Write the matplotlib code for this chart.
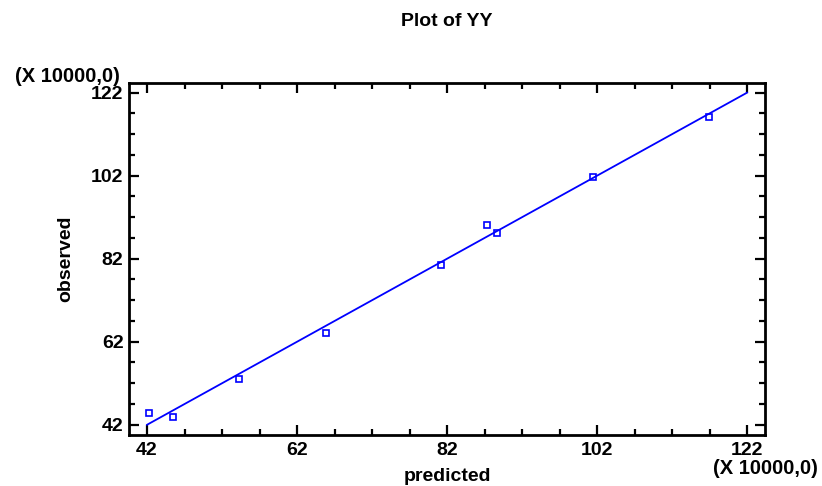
import numpy as np
import matplotlib
matplotlib.use('Agg')
import matplotlib.pyplot as plt
from matplotlib.ticker import FixedLocator

plt.rcParams['font.family'] = ['Liberation Sans', 'DejaVu Sans']
plt.rcParams['font.weight'] = 'bold'

# values in units of 10000
predicted = [42.3, 45.5, 54.3, 65.9, 81.2, 87.3, 88.7, 101.5, 116.9]
observed = [44.9, 43.9, 53.1, 64.1, 80.6, 90.2, 88.3, 101.7, 116.2]
fit_x = [42, 122]
ticks = [42, 62, 82, 102, 122]
minor = np.arange(42, 123, 5)

fig = plt.figure(figsize=(8.22, 4.86), dpi=100)
ax = fig.add_axes([0.157, 0.1055, 0.7737, 0.7243])

ax.plot(fit_x, fit_x, color='#0000ff', lw=1.3)
ax.plot(predicted, observed, 's', mfc='none', mec='#0000ff', ms=4.5, mew=1.2)

ax.set_xlim(39.6, 124.4)
ax.set_ylim(39.6, 124.4)
ax.set_xticks(ticks)
ax.set_yticks(ticks)
ax.xaxis.set_minor_locator(FixedLocator(minor))
ax.yaxis.set_minor_locator(FixedLocator(minor))
ax.tick_params(which='both', direction='in', top=True, right=True, width=1.6,
               labelsize=14, colors='black')
ax.tick_params(which='major', length=7)
ax.tick_params(which='minor', length=4)
ax.tick_params(axis='x', which='major', pad=5)
ax.tick_params(axis='y', which='major', pad=4)
for lab in ax.get_xticklabels() + ax.get_yticklabels():
    lab.set_fontweight('bold')
for s in ax.spines.values():
    s.set_linewidth(2)

ax.set_xlabel('predicted', fontsize=14, fontweight='bold', va='center')
ax.xaxis.set_label_coords(0.5, -0.12)
ax.set_ylabel('observed', fontsize=14, fontweight='bold', va='center')
ax.yaxis.set_label_coords(-0.1, 0.5)
fig.text(0.544, 0.955, 'Plot of YY', ha='center', va='center', fontsize=14, fontweight='bold')
fig.text(0.146, 0.8436, '(X 10000,0)', ha='right', va='center', fontsize=14.5, fontweight='bold')
fig.text(0.995, 0.036, '(X 10000,0)', ha='right', va='center', fontsize=14.5, fontweight='bold')

fig.savefig('out.png', dpi=100)
